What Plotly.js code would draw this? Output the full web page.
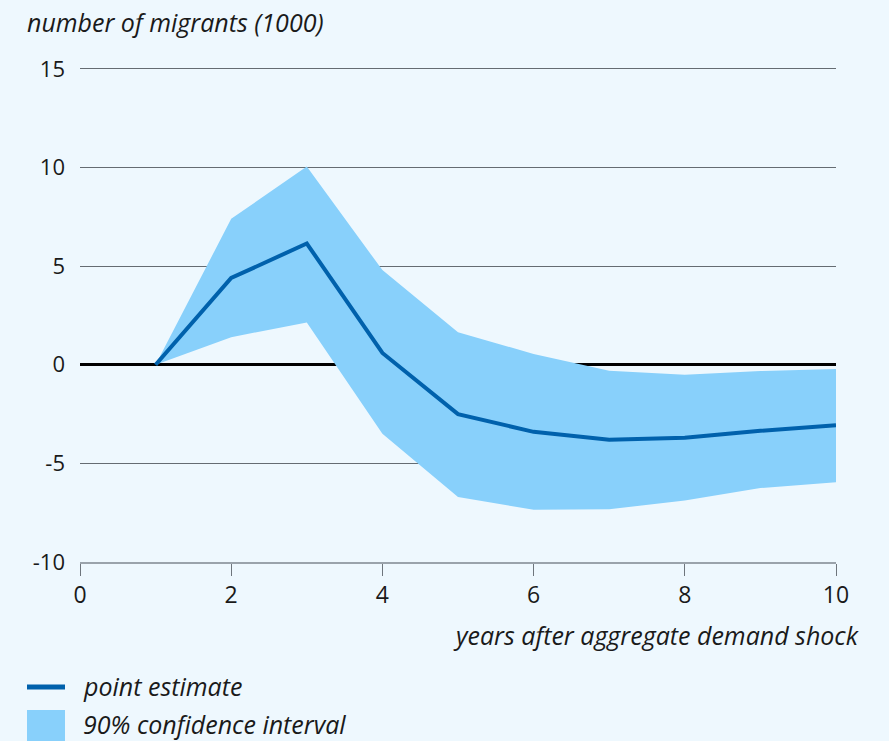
<!DOCTYPE html>
<html>
<head>
<meta charset="utf-8">
<script src="https://cdn.plot.ly/plotly-3.0.1.min.js"></script>
<style>
  html, body { margin: 0; padding: 0; background: #eef8fe; }
  #chart { width: 889px; height: 741px; }
</style>
</head>
<body>
<div id="chart"></div>
<script>
const years = [1, 2, 3, 4, 5, 6, 7, 8, 9, 10];
const pointEstimate = [0, 4.4, 6.15, 0.6, -2.5, -3.4, -3.8, -3.7, -3.35, -3.07];
const upperBound = [0, 7.4, 10.05, 4.8, 1.65, 0.55, -0.3, -0.5, -0.32, -0.22];
const lowerBound = [0, 1.4, 2.15, -3.5, -6.7, -7.35, -7.33, -6.88, -6.25, -5.95];
const yTicks = [-10, -5, 0, 5, 10, 15];
const xTicks = [0, 2, 4, 6, 8, 10];

const yTitle = "number of migrants (1000)";
const xTitle = "years after aggregate demand shock";
const legendLine = "point estimate";
const legendBand = "90% confidence interval";

const W = 889, H = 741;
const M = { l: 80, r: 53, t: 66, b: 179 };
const pw = W - M.l - M.r, ph = H - M.t - M.b;
const px = x => (x - M.l) / pw;
const py = y => (H - M.b - y) / ph;

const lineColor = "#0061ac";
const bandColor = "#88d0fb";
const bg = "#eef8fe";
const font = "'Open Sans', 'Noto Sans', sans-serif";
const txt = "#1a1a1a";

const traces = [
  { x: years, y: lowerBound, type: "scatter", mode: "lines", line: { width: 0, color: bandColor }, hoverinfo: "skip", showlegend: false },
  { x: years, y: upperBound, type: "scatter", mode: "lines", fill: "tonexty", fillcolor: bandColor, line: { width: 0, color: bandColor }, hoverinfo: "skip", showlegend: false },
  { x: years, y: pointEstimate, type: "scatter", mode: "lines", line: { width: 4, color: lineColor }, hoverinfo: "skip", showlegend: false }
];

const layout = {
  width: W, height: H,
  margin: M,
  paper_bgcolor: bg, plot_bgcolor: bg,
  showlegend: false,
  font: { family: font, size: 20, color: txt },
  xaxis: {
    range: [0, 10], tickvals: xTicks, ticktext: xTicks.map(String),
    showgrid: false, zeroline: false,
    showline: true, linecolor: "#9aa3ab", linewidth: 1.5,
    ticks: "outside", ticklen: 12, tickcolor: "#6e757c", tickwidth: 1,
    tickfont: { family: font, size: 23, color: txt }
  },
  yaxis: {
    range: [-10, 15.15], tickvals: yTicks, ticktext: yTicks.map(String),
    showgrid: true, gridcolor: "#656c72", gridwidth: 1,
    zeroline: true, zerolinecolor: "#000000", zerolinewidth: 3,
    showline: false, ticks: "",
    ticklabelstandoff: 14,
    tickfont: { family: font, size: 22, color: txt }
  },
  shapes: [
    { type: "line", xref: "paper", yref: "paper", x0: px(27), x1: px(65), y0: py(687), y1: py(687), line: { color: lineColor, width: 5 } },
    { type: "rect", xref: "paper", yref: "paper", x0: px(27), x1: px(65), y0: py(710), y1: py(741), fillcolor: bandColor, line: { width: 0 } }
  ],
  annotations: [
    { text: yTitle, xref: "paper", yref: "paper", x: px(25), y: py(22), xanchor: "left", yanchor: "middle", showarrow: false, font: { family: font, size: 25, style: "italic", color: txt } },
    { text: xTitle, xref: "paper", yref: "paper", x: px(861), y: py(635), xanchor: "right", yanchor: "middle", showarrow: false, font: { family: font, size: 25, style: "italic", color: txt } },
    { text: legendLine, xref: "paper", yref: "paper", x: px(81), y: py(686), xanchor: "left", yanchor: "middle", showarrow: false, font: { family: font, size: 25, style: "italic", color: txt } },
    { text: legendBand, xref: "paper", yref: "paper", x: px(81), y: py(724), xanchor: "left", yanchor: "middle", showarrow: false, font: { family: font, size: 25, style: "italic", color: txt } }
  ]
};

Plotly.newPlot("chart", traces, layout, { staticPlot: true, displayModeBar: false });
</script>
</body>
</html>
